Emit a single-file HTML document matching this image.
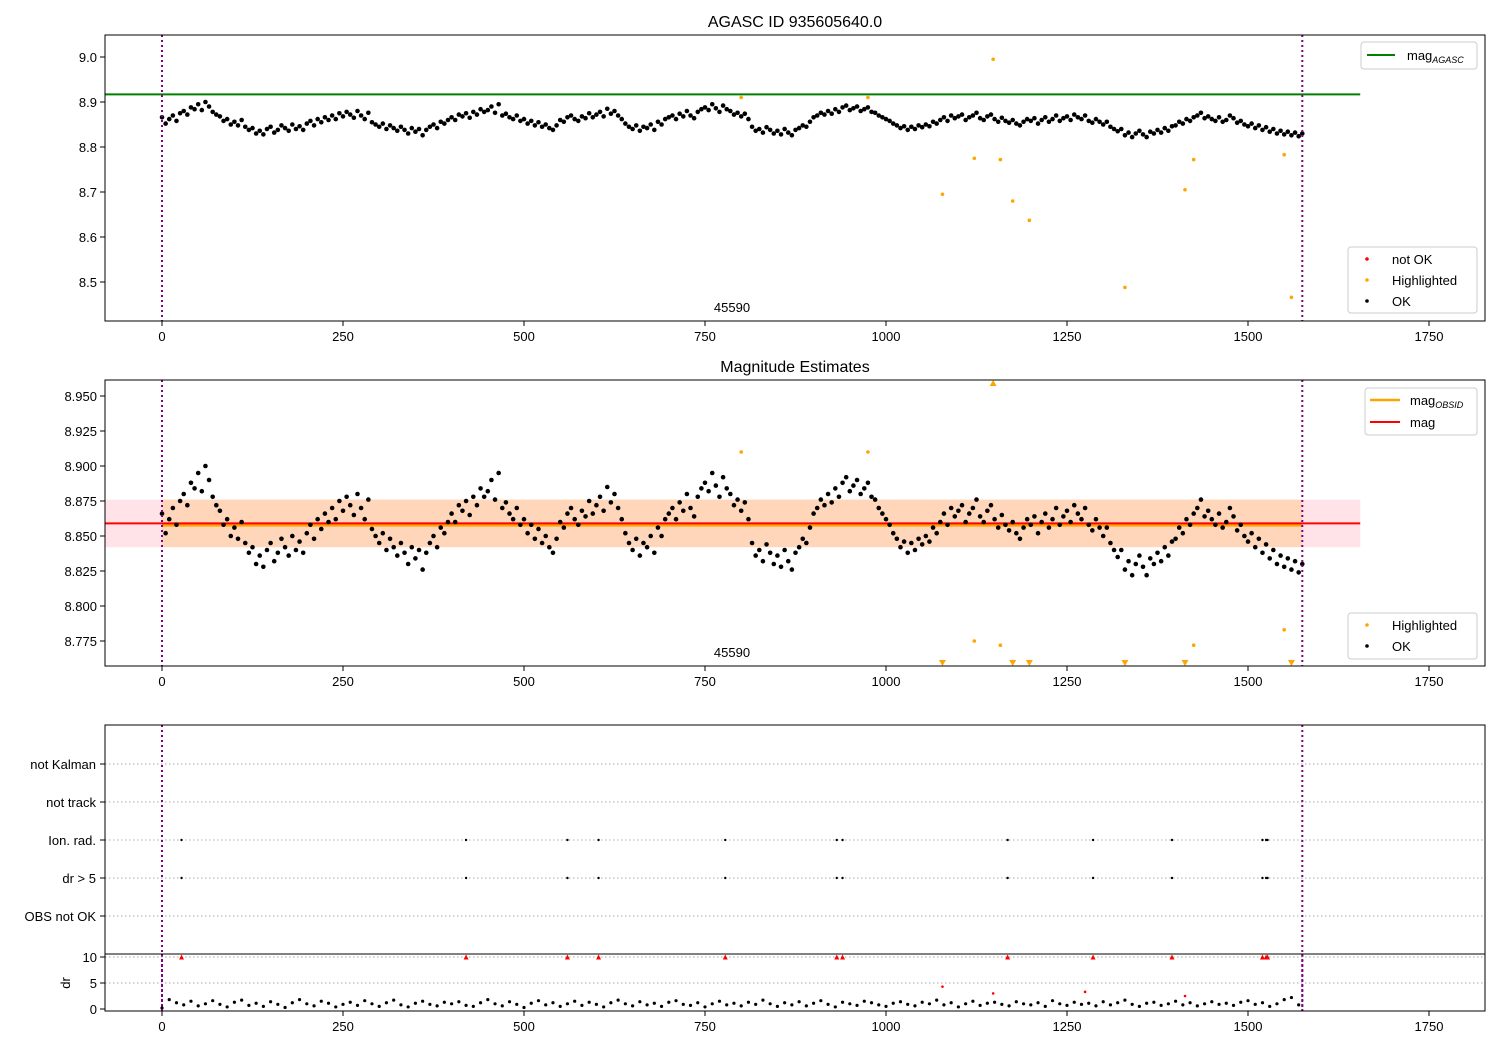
<!DOCTYPE html>
<html><head><meta charset="utf-8"><style>
body{margin:0;background:#fff;}
svg{display:block;font-family:"Liberation Sans","DejaVu Sans",sans-serif;}
</style></head><body>
<svg id="fig" width="1500" height="1050" xmlns="http://www.w3.org/2000/svg"></svg>
<script>
const magValues=[8.866,8.852,8.862,8.870,8.858,8.875,8.880,8.872,8.888,8.884,
8.895,8.882,8.900,8.890,8.878,8.872,8.868,8.858,8.862,8.850,
8.856,8.848,8.860,8.845,8.838,8.842,8.830,8.836,8.828,8.840,
8.845,8.832,8.838,8.848,8.842,8.836,8.850,8.840,8.846,8.838,
8.852,8.858,8.848,8.862,8.855,8.866,8.860,8.870,8.862,8.875,
8.868,8.878,8.872,8.865,8.880,8.870,8.862,8.876,8.855,8.850,
8.845,8.852,8.840,8.848,8.842,8.836,8.845,8.838,8.830,8.842,
8.834,8.840,8.826,8.838,8.845,8.850,8.842,8.856,8.852,8.860,
8.866,8.860,8.872,8.868,8.875,8.865,8.878,8.872,8.884,8.878,
8.882,8.890,8.876,8.895,8.870,8.874,8.866,8.862,8.870,8.858,
8.862,8.852,8.858,8.848,8.855,8.845,8.850,8.842,8.838,8.848,
8.860,8.856,8.866,8.870,8.862,8.858,8.868,8.864,8.875,8.866,
8.872,8.878,8.868,8.885,8.874,8.880,8.870,8.862,8.852,8.845,
8.840,8.848,8.836,8.845,8.842,8.850,8.838,8.856,8.850,8.862,
8.866,8.870,8.862,8.874,8.868,8.880,8.870,8.864,8.878,8.884,
8.888,8.882,8.895,8.886,8.878,8.892,8.884,8.880,8.872,8.876,
8.868,8.874,8.862,8.845,8.836,8.840,8.832,8.844,8.838,8.830,
8.836,8.828,8.840,8.832,8.826,8.838,8.842,8.848,8.845,8.856,
8.866,8.870,8.876,8.872,8.880,8.874,8.884,8.878,8.888,8.892,
8.882,8.886,8.890,8.880,8.884,8.888,8.878,8.876,8.870,8.866,
8.862,8.858,8.852,8.848,8.842,8.846,8.838,8.845,8.840,8.848,
8.844,8.850,8.846,8.856,8.852,8.860,8.866,8.858,8.870,8.864,
8.868,8.872,8.860,8.866,8.870,8.876,8.864,8.860,8.868,8.872,
8.862,8.856,8.865,8.858,8.854,8.860,8.852,8.848,8.856,8.862,
8.858,8.864,8.852,8.860,8.866,8.856,8.862,8.870,8.858,8.864,
8.868,8.860,8.872,8.866,8.862,8.870,8.858,8.854,8.862,8.856,
8.850,8.856,8.845,8.840,8.835,8.840,8.826,8.832,8.822,8.830,
8.836,8.828,8.822,8.834,8.830,8.838,8.832,8.842,8.836,8.846,
8.848,8.856,8.852,8.862,8.858,8.866,8.870,8.876,8.864,8.868,
8.862,8.858,8.866,8.856,8.860,8.870,8.864,8.854,8.858,8.850,
8.846,8.852,8.842,8.848,8.838,8.844,8.834,8.840,8.830,8.836,
8.828,8.834,8.826,8.832,8.824,8.830];
const magStep=5;
const hlX=[800,975,1078,1122,1148,1158,1175,1198,1330,1413,1425,1550,1560];
const hlY=[8.91,8.91,8.695,8.775,8.995,8.772,8.68,8.637,8.488,8.705,8.772,8.783,8.466];
const eventX=[27,420,560,603,778,932,940,1168,1286,1395,1520,1525,1527];
const drValues=[0.2,1.8,1.2,0.8,1.5,0.6,1.0,1.6,0.9,0.4,1.3,1.7,0.7,1.1,0.5,1.4,0.9,0.3,1.2,1.8,
1.0,0.6,1.5,1.1,0.4,0.9,1.3,0.7,1.6,1.0,0.5,1.2,1.7,0.8,0.4,1.1,1.5,0.9,0.6,1.3,
1.0,1.4,0.7,0.5,1.2,1.8,1.0,0.6,1.4,0.9,0.3,1.1,1.6,0.8,1.2,0.5,1.0,1.5,0.7,1.3,
0.9,0.4,1.2,1.7,1.0,0.6,1.4,0.8,1.1,0.5,1.3,1.6,0.9,0.7,1.2,0.4,1.0,1.5,0.8,1.1,
0.6,1.3,0.9,1.7,1.0,0.5,1.2,0.8,1.4,0.6,1.1,1.6,0.9,0.4,1.3,1.0,0.7,1.5,1.2,0.8,
0.5,1.1,1.4,0.9,0.6,1.3,1.0,1.7,0.8,1.2,0.4,1.0,1.5,0.7,1.1,1.3,0.9,0.6,1.4,1.0,
0.8,1.2,0.5,1.6,1.0,0.7,1.3,0.9,1.1,0.6,1.4,0.8,1.2,1.7,0.9,0.5,1.1,1.3,0.7,1.0,
1.5,0.8,1.2,0.6,1.0,1.4,0.9,1.1,0.7,1.3,1.6,0.9,1.2,0.5,1.0,1.8,2.2,0.8];
const drStep=10;
const drOutX=[1078,1148,1275,1413];
const drOutY=[4.3,3.0,3.3,2.5];
const flagCats=["not Kalman","not track","Ion. rad.","dr > 5","OBS not OK"];
const xTicks=[0,250,500,750,1000,1250,1500,1750];
const y1Ticks=[8.5,8.6,8.7,8.8,8.9,9.0];
const y2Ticks=[8.775,8.800,8.825,8.850,8.875,8.900,8.925,8.950];
const drTicks=[0,5,10];
const magAgasc=8.917, magMean=8.859, magLo=8.842, magHi=8.876, obsEnd=1575, lineEnd=1655;

const NS="http://www.w3.org/2000/svg";
const svg=document.getElementById('fig');
function el(tag,attrs,parent){const e=document.createElementNS(NS,tag);for(const k in attrs)e.setAttribute(k,attrs[k]);(parent||svg).appendChild(e);return e;}
function txt(s,attrs,parent){const e=el('text',attrs,parent);e.textContent=s;return e;}
const L=105,R=1485;
const X=v=>162+(v)*(1267/1750);
function lin(d0,d1,p0,p1){return v=>p0+(v-d0)*(p1-p0)/(d1-d0);}
const Y1=lin(9.0,8.5,57,282);
const Y2=lin(8.95,8.775,396,641);
const YF=i=>764+i*38;
const YD=lin(10,0,957,1009);

function xAxis(bottom,name){
  const g=el('g',{});
  
  
  xTicks.forEach(t=>{el('line',{x1:X(t),x2:X(t),y1:bottom,y2:bottom+5,stroke:'#000'},g);
    txt(String(t),{x:X(t),y:bottom+20,'font-size':13,'text-anchor':'middle'},g);});
}
function yAxis(ticks,Y,fmt,name){
  const g=el('g',{});
  
  
  ticks.forEach(t=>{el('line',{x1:L-5,x2:L,y1:Y(t),y2:Y(t),stroke:'#000'},g);
    txt(fmt(t),{x:L-8,y:Y(t)+5,'font-size':13,'text-anchor':'end'},g);});
}
function frame(top,bot,name){const r=el('rect',{x:L,y:top,width:R-L,height:bot-top,fill:'none',stroke:'#000','stroke-width':1});
  }
function vlines(top,bot){[0,obsEnd].forEach(v=>{const l=el('line',{x1:X(v),x2:X(v),y1:top,y2:bot,stroke:'#800080','stroke-width':2,'stroke-dasharray':'2,3'});
  });}

// ===== Panel 1 =====
txt('AGASC ID 935605640.0',{x:795,y:27,'font-size':16,'text-anchor':'middle',});
const g1=el('g',{});
const agl=el('line',{x1:L,x2:X(lineEnd),y1:Y1(magAgasc),y2:Y1(magAgasc),stroke:'#008000','stroke-width':2});

magValues.forEach((v,i)=>{const c=el('circle',{cx:X(i*magStep),cy:Y1(v),r:2.3,fill:'#000'},g1);});
hlX.forEach((x,i)=>{const c=el('circle',{cx:X(x),cy:Y1(hlY[i]),r:1.8,fill:'orange'},g1);});
vlines(35,321);
txt('45590',{x:732,y:312,'font-size':13,'text-anchor':'middle',});
frame(35,321,'agasc-axes');
xAxis(321,'x-axis-1');yAxis(y1Ticks,Y1,t=>t.toFixed(1),'y-axis-1');
el('rect',{x:1361,y:42,width:116,height:27,rx:3,fill:'#fff',stroke:'#ccc',});
el('line',{x1:1367,x2:1395,y1:55,y2:55,stroke:'#008000','stroke-width':2});
const lt=txt('mag',{x:1407,y:60,'font-size':13,});
const ts=el('tspan',{'font-size':9,'font-style':'italic',dy:3},lt);ts.textContent='AGASC';
el('rect',{x:1348,y:247,width:129,height:66,rx:3,fill:'#fff',stroke:'#ccc',});
[['not OK','red',259],['Highlighted','orange',280],['OK','#000',301]].forEach(([s,c,y])=>{
  el('circle',{cx:1367,cy:y,r:1.8,fill:c});txt(s,{x:1392,y:y+5,'font-size':13,});});

// ===== Panel 2 =====
txt('Magnitude Estimates',{x:795,y:372,'font-size':16,'text-anchor':'middle',});
const band=el('rect',{x:L,y:Y2(magHi),width:X(lineEnd)-L,height:Y2(magLo)-Y2(magHi),fill:'#ffc0cb',opacity:0.45});

const oband=el('rect',{x:X(0),y:Y2(magHi),width:X(obsEnd)-X(0),height:Y2(magLo)-Y2(magHi),fill:'#ffa500',opacity:0.2});

const ol=el('line',{x1:X(0),x2:X(obsEnd),y1:Y2(magMean)+2,y2:Y2(magMean)+2,stroke:'orange','stroke-width':2.5});

const ml=el('line',{x1:L,x2:X(lineEnd),y1:Y2(magMean),y2:Y2(magMean),stroke:'red','stroke-width':2});

const g2=el('g',{});
magValues.forEach((v,i)=>{const c=el('circle',{cx:X(i*magStep),cy:Y2(v),r:2.3,fill:'#000'},g2);});
const y2min=8.7571,y2max=8.9614;
hlX.forEach((x,i)=>{const v=hlY[i];let e;
  if(v<y2min){const cx=X(x),cy=663;e=el('polygon',{points:`${cx-3.5},${cy-3} ${cx+3.5},${cy-3} ${cx},${cy+3}`,fill:'orange'},g2);}
  else if(v>y2max){const cx=X(x),cy=383;e=el('polygon',{points:`${cx-3.5},${cy+3} ${cx+3.5},${cy+3} ${cx},${cy-3}`,fill:'orange'},g2);}
  else e=el('circle',{cx:X(x),cy:Y2(v),r:1.8,fill:'orange'},g2);
  });
vlines(380,666);
txt('45590',{x:732,y:657,'font-size':13,'text-anchor':'middle',});
frame(380,666,'estimates-axes');
xAxis(666,'x-axis-2');yAxis(y2Ticks,Y2,t=>t.toFixed(3),'y-axis-2');
el('rect',{x:1365,y:388,width:112,height:47,rx:3,fill:'#fff',stroke:'#ccc',});
el('line',{x1:1370,x2:1400,y1:400,y2:400,stroke:'orange','stroke-width':2.5});
const lt2=txt('mag',{x:1410,y:405,'font-size':13,});
const ts2=el('tspan',{'font-size':9,'font-style':'italic',dy:3},lt2);ts2.textContent='OBSID';
el('line',{x1:1370,x2:1400,y1:422,y2:422,stroke:'red','stroke-width':2});
txt('mag',{x:1410,y:427,'font-size':13,});
el('rect',{x:1348,y:613,width:129,height:46,rx:3,fill:'#fff',stroke:'#ccc',});
[['Highlighted','orange',625],['OK','#000',646]].forEach(([s,c,y])=>{
  el('circle',{cx:1367,cy:y,r:1.8,fill:c});txt(s,{x:1392,y:y+5,'font-size':13,});});

// ===== Panel 3 flags =====
flagCats.forEach((c,i)=>{const l=el('line',{x1:L,x2:R,y1:YF(i),y2:YF(i),stroke:'#aaa','stroke-dasharray':'1.5,2.5'});
  
  el('line',{x1:L-5,x2:L,y1:YF(i),y2:YF(i),stroke:'#000'});
  txt(c,{x:L-9,y:YF(i)+5,'font-size':13,'text-anchor':'end',});});
const g3=el('g',{});
eventX.forEach(x=>{[2,3].forEach(r=>{const c=el('circle',{cx:X(x),cy:YF(r),r:1.2,fill:'#000'},g3);});});
vlines(725,1011);
frame(725,954,'flags-axes');

// dr panel
[5,10].forEach(t=>{el('line',{x1:L,x2:R,y1:YD(t),y2:YD(t),stroke:'#aaa','stroke-dasharray':'1.5,2.5'});});
const g4=el('g',{});
drValues.forEach((v,i)=>{const c=el('circle',{cx:X(i*drStep),cy:YD(v),r:1.6,fill:'#000'},g4);});
drOutX.forEach((x,i)=>{const c=el('circle',{cx:X(x),cy:YD(drOutY[i]),r:1.3,fill:'red'},g4);});
eventX.forEach(x=>{const cx=X(x),cy=YD(10);const p=el('polygon',{points:`${cx-2.5},${cy+2.5} ${cx+2.5},${cy+2.5} ${cx},${cy-2.5}`,fill:'red'},g4);});
vlines(954,1011);
frame(954,1011,'dr-axes');
xAxis(1011,'x-axis-dr');yAxis(drTicks,YD,t=>String(t),'y-axis-dr');
txt('dr',{x:70,y:983,'font-size':13,'text-anchor':'middle',transform:'rotate(-90 70 983)',});
</script>
</body></html>
